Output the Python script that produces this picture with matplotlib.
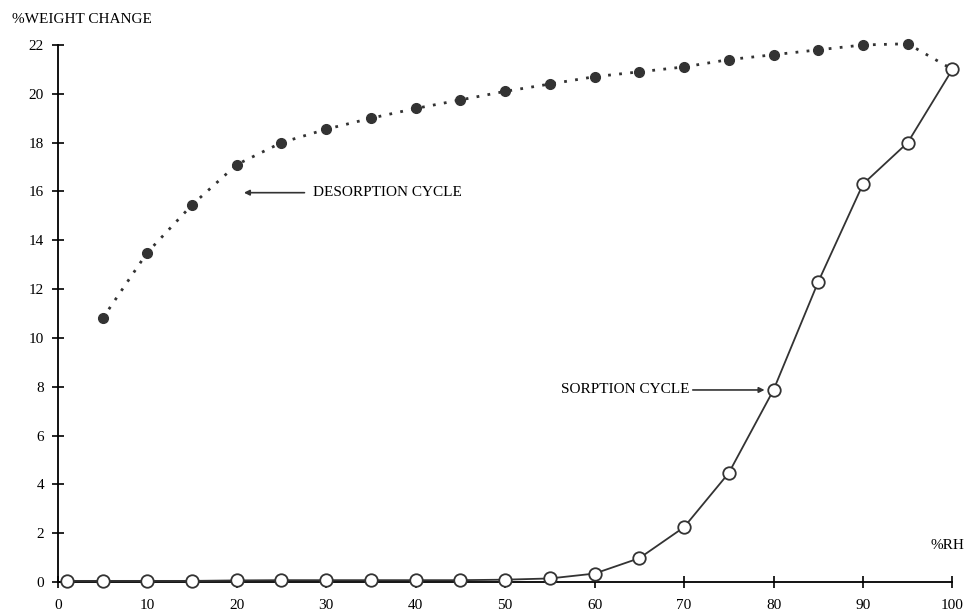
import matplotlib.pyplot as plt

plt.rcParams["font.family"] = ["Liberation Serif", "DejaVu Serif"]

# sorption branch (open circles, solid line)
rh_sorp = [1, 5, 10, 15, 20, 25, 30, 35, 40, 45, 50, 55, 60, 65, 70, 75, 80, 85, 90, 95, 100]
wt_sorp = [0.05, 0.05, 0.05, 0.05, 0.07, 0.08, 0.08, 0.08, 0.08, 0.08, 0.1, 0.15, 0.35,
           0.98, 2.25, 4.47, 7.87, 12.3, 16.3, 18.0, 21.0]

# desorption branch (filled circles, dotted line)
rh_desorp = [5, 10, 15, 20, 25, 30, 35, 40, 45, 50, 55, 60, 65, 70, 75, 80, 85, 90, 95, 100]
wt_desorp = [10.8, 13.5, 15.45, 17.1, 18.0, 18.55, 19.0, 19.4, 19.75, 20.1, 20.4, 20.7,
             20.9, 21.1, 21.4, 21.6, 21.8, 22.0, 22.05, 21.0]

x_ticks = list(range(0, 101, 10))
y_ticks = list(range(0, 23, 2))

fig = plt.figure(figsize=(9.64, 6.16), dpi=100)
ax = fig.add_axes([0.060, 0.055, 0.928, 0.872])

ax.plot(rh_desorp, wt_desorp, color="#333333", linestyle=(0, (1, 3)), linewidth=2,
        marker="o", markersize=7, markerfacecolor="#333333", markeredgecolor="#333333",
        clip_on=False, zorder=3)
ax.plot(rh_sorp, wt_sorp, color="#333333", linewidth=1.3, marker="o", markersize=9,
        markerfacecolor="white", markeredgecolor="#333333", markeredgewidth=1.3,
        clip_on=False, zorder=4)

ax.set_xlim(0, 100)
ax.set_ylim(0, 22)
ax.set_xticks(x_ticks)
ax.set_yticks(y_ticks)
ax.spines["top"].set_visible(False)
ax.spines["right"].set_visible(False)
ax.spines["left"].set_linewidth(1.3)
ax.spines["bottom"].set_linewidth(1.3)
ax.tick_params(direction="inout", length=8, width=1.2, labelsize=11, pad=6)
ax.tick_params(axis="x", pad=8)

ax.annotate("DESORPTION CYCLE", xy=(20.8, 15.95), xytext=(28.5, 15.95),
            fontsize=11, va="center", ha="left",
            arrowprops=dict(arrowstyle="-|>", color="#333333", lw=1.2,
                            mutation_scale=8, shrinkA=4, shrinkB=0))
ax.annotate("SORPTION CYCLE", xy=(79.0, 7.87), xytext=(56.3, 7.87),
            fontsize=11, va="center", ha="left",
            arrowprops=dict(arrowstyle="-|>", color="#333333", lw=1.2,
                            mutation_scale=8, shrinkA=62, shrinkB=0))

fig.text(0.012, 0.968, "%WEIGHT CHANGE", fontsize=11, ha="left", va="center")
ax.text(97.5, 1.5, "%RH", fontsize=11, ha="left", va="center")

fig.savefig("out.png", dpi=100)
